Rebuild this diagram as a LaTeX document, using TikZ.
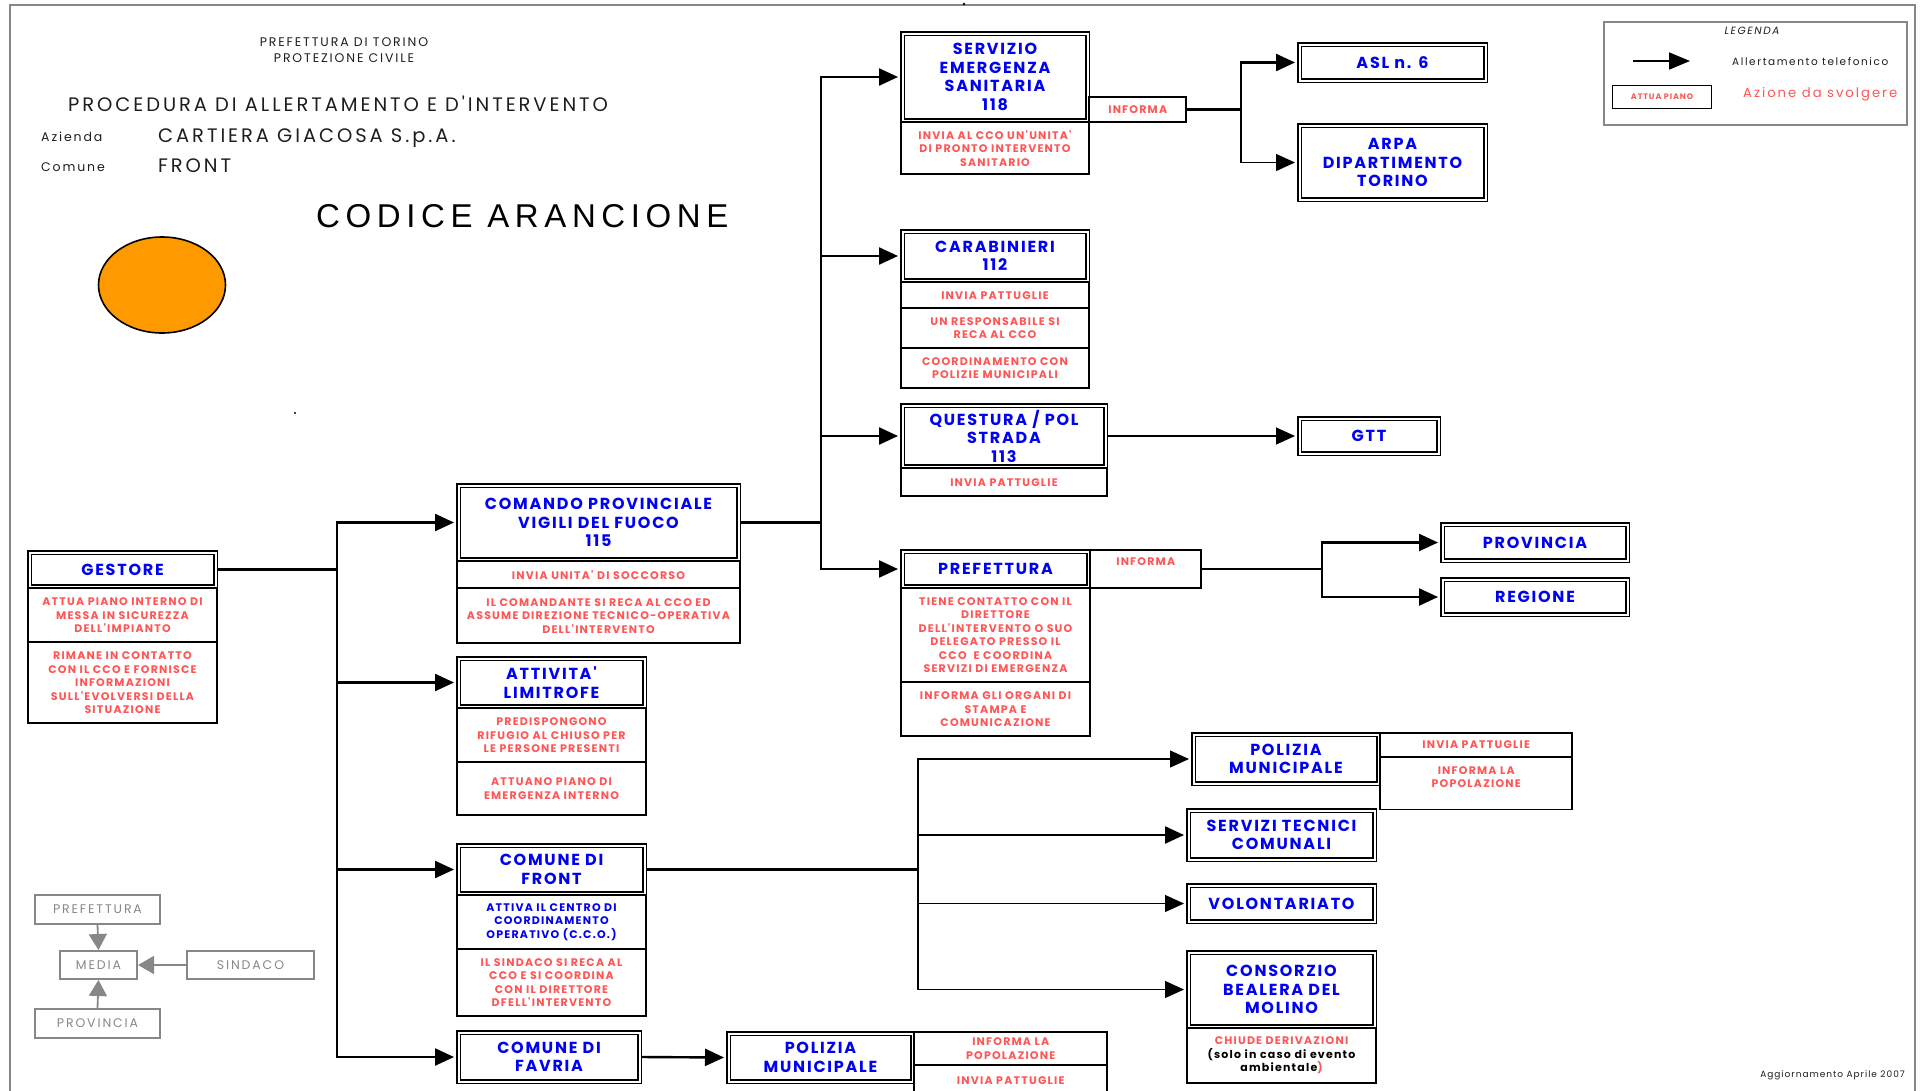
\documentclass[tikz,border=0pt]{standalone}
\usepackage{fontspec}
\setmainfont{Poppins}
\newfontfamily\boxfam[LetterSpace=11]{Poppins}
\newfontfamily\titfam[LetterSpace=15]{Poppins}
\newfontfamily\codfam[LetterSpace=17]{Liberation Sans}
\usetikzlibrary{arrows.meta, positioning}

\definecolor{hblue}{RGB}{0,0,245}
\definecolor{ared}{RGB}{255,85,85}
\definecolor{mgray}{RGB}{135,135,135}
\definecolor{tgray}{RGB}{30,30,30}
\definecolor{codeorange}{RGB}{255,153,0}

\newcommand{\headfont}{\boxfam\bfseries\fontsize{16}{18.5}\selectfont}
\newcommand{\actfont}{\boxfam\bfseries\fontsize{11}{13.5}\selectfont}
\newcommand{\notefont}{\boxfam\fontsize{11}{13.5}\selectfont}
\newcommand{\mediafont}{\titfam\fontsize{12.5}{14}\selectfont}

\begin{document}
\begin{tikzpicture}[
        x=1pt, y=-1pt,
        head/.style={
            rectangle,
            draw=black,
            double=white,
            double distance=2pt,
            line width=1.5pt,
            outer sep=2.5pt,
            inner sep=2pt,
            anchor=north west,
            align=center,
            text=hblue,
            font=\headfont
        },
        act/.style={
            rectangle,
            draw=black,
            line width=1.6pt,
            inner sep=2pt,
            align=center,
            text=ared,
            font=\actfont
        },
        lbl/.style={anchor=north, inner sep=0pt, align=center, text=ared, font=\actfont},
        ttl/.style={anchor=base west, inner sep=0pt, text=tgray},
        gbox/.style={rectangle, draw=mgray, line width=1.6pt, inner sep=0pt, text=mgray, font=\mediafont},
        arrow/.style={-{Triangle[length=19pt, width=17pt]}, black, line width=2.4pt, shorten >=2pt},
        thinarrow/.style={arrow, line width=1.2pt},
        garrow/.style={-{Triangle[length=16pt, width=18pt]}, mgray, line width=1.8pt}
    ]

    % --- FRAME ---
    \useasboundingbox (0,0) rectangle (1921,1090);
    \clip (0,0) rectangle (1921,1090);
    \draw[mgray, line width=2pt] (10,1100) -- (10,5) -- (1915,5) -- (1915,1100);
    \fill (964,4) circle (1.3pt);
    \fill (295,413) circle (1.2pt);

    % --- TITLE ---
    \node[ttl, anchor=base, font=\titfam\fontsize{12.5}{14}\selectfont] (ente) at (344,46) {PREFETTURA DI TORINO};
    \node[ttl, anchor=base, font=\titfam\fontsize{12.5}{14}\selectfont] (ufficio) at (344,62) {PROTEZIONE CIVILE};
    \node[ttl, font=\titfam\fontsize{19.5}{24}\selectfont] (proc) at (68,111) {PROCEDURA DI ALLERTAMENTO E D'INTERVENTO};
    \node[ttl, font=\titfam\fontsize{12.5}{14}\selectfont] (azlab) at (41,141) {Azienda};
    \node[ttl, font=\titfam\fontsize{19.5}{22}\selectfont] (az) at (158,142) {CARTIERA GIACOSA S.p.A.};
    \node[ttl, font=\titfam\fontsize{12.5}{14}\selectfont] (comlab) at (41,171) {Comune};
    \node[ttl, font=\titfam\fontsize{19.5}{22}\selectfont] (com) at (158,172) {FRONT};
    \node[ttl, font=\codfam\fontsize{33}{36}\selectfont, text=black] (codice) at (316,227) {CODICE ARANCIONE};
    \draw[line width=1.6pt, fill=codeorange] (162,285) ellipse [x radius=63.5pt, y radius=48pt];

    % --- LEGENDA ---
    \node[rectangle, draw=mgray, line width=1.6pt, anchor=north west, minimum width=303.4pt, minimum height=103.4pt] (leg) at (1603,21) {};
    \node[font=\titfam\itshape\fontsize{10.5}{12}\selectfont, text=tgray] (legtit) at (1752,31) {LEGENDA};
    \coordinate (lega) at (1633,61);
    \coordinate (legb) at (1690,61);
    \draw[-{Triangle[length=21pt, width=17pt]}, line width=1.8pt] (lega) -- (legb);
    \node[ttl, anchor=west, font=\titfam\fontsize{10.5}{12}\selectfont] (legtel) at (1732,62) {Allertamento telefonico};
    \node[act, line width=1.4pt, minimum width=98.6pt, minimum height=22.6pt, font=\boxfam\bfseries\fontsize{8}{9}\selectfont] (legact) at (1662,97) {ATTUA PIANO};
    \node[ttl, anchor=west, text=ared, font=\titfam\fontsize{13.2}{14}\selectfont] (legaz) at (1743,94) {Azione da svolgere};

    % --- GESTORE ---
    \node[head, minimum width=186pt, minimum height=34pt] (gest) at (27,550) {GESTORE};
    \node[act, minimum width=189.4pt, minimum height=54pt, below=-1.6pt of gest] (gest1)
        {ATTUA PIANO INTERNO DI\\MESSA IN SICUREZZA\\DELL'IMPIANTO};
    \node[act, minimum width=189.4pt, minimum height=81pt, below=-1.6pt of gest1] (gest2)
        {RIMANE IN CONTATTO\\CON IL CCO E FORNISCE\\INFORMAZIONI\\SULL'EVOLVERSI DELLA\\SITUAZIONE};

    % --- VIGILI DEL FUOCO ---
    \node[head, minimum width=280pt, minimum height=74pt] (vvf) at (456,483) {COMANDO PROVINCIALE\\VIGILI DEL FUOCO\\115};
    \node[act, minimum width=283.4pt, minimum height=27pt, below=-1.6pt of vvf] (vvf1) {INVIA UNITA' DI SOCCORSO};
    \node[act, minimum width=283.4pt, minimum height=55pt, below=-1.6pt of vvf1] (vvf2)
        {IL COMANDANTE SI RECA AL CCO ED\\ASSUME DIREZIONE TECNICO-OPERATIVA\\DELL'INTERVENTO};

    % --- ATTIVITA' LIMITROFE ---
    \node[head, minimum width=186pt, minimum height=48pt] (att) at (456,656) {ATTIVITA'\\LIMITROFE};
    \node[act, minimum width=189.4pt, minimum height=54pt, below=-1.6pt of att] (att1)
        {PREDISPONGONO\\RIFUGIO AL CHIUSO PER\\LE PERSONE PRESENTI};
    \node[act, minimum width=189.4pt, minimum height=53pt, below=-1.6pt of att1] (att2)
        {ATTUANO PIANO DI\\EMERGENZA INTERNO};

    % --- COMUNE DI FRONT ---
    \node[head, minimum width=186pt, minimum height=48pt] (front) at (456,843) {COMUNE DI\\FRONT};
    \node[act, text=hblue, minimum width=189.4pt, minimum height=54pt, below=-1.6pt of front] (front1)
        {ATTIVA IL CENTRO DI\\COORDINAMENTO\\OPERATIVO (C.C.O.)};
    \node[act, minimum width=189.4pt, minimum height=67pt, below=-1.6pt of front1] (front2)
        {IL SINDACO SI RECA AL\\CCO E SI COORDINA\\CON IL DIRETTORE\\DFELL'INTERVENTO};

    % --- COMUNE DI FAVRIA ---
    \node[head, minimum width=181pt, minimum height=49pt] (favria) at (456,1030) {COMUNE DI\\FAVRIA};
    \node[head, minimum width=184pt, minimum height=48pt] (pmb) at (726,1031) {POLIZIA\\MUNICIPALE};
    \node[act, anchor=north west, xshift=-1.6pt, minimum width=193pt, minimum height=33.4pt] (pmb1) at (pmb.north east)
        {INFORMA LA\\POPOLAZIONE};
    \node[act, minimum width=193pt, minimum height=30pt, below=-1.6pt of pmb1] (pmb2) {INVIA PATTUGLIE};

    % --- 118 ---
    \node[head, minimum width=185pt, minimum height=87pt] (san) at (900,31) {SERVIZIO\\EMERGENZA\\SANITARIA\\118};
    \node[act, minimum width=188.4pt, minimum height=52pt, below=-1.6pt of san] (san1)
        {INVIA AL CCO UN'UNITA'\\DI PRONTO INTERVENTO\\SANITARIO};
    \node[act, anchor=south west, xshift=-1.6pt, minimum width=97pt, minimum height=25.4pt] (sinf) at (san.south east) {INFORMA};
    \node[head, minimum width=186pt, minimum height=36pt] (asl) at (1297,42) {ASL n. 6};
    \node[head, minimum width=186pt, minimum height=74pt] (arpa) at (1297,123) {ARPA\\DIPARTIMENTO\\TORINO};

    % --- CARABINIERI ---
    \node[head, minimum width=185pt, minimum height=49pt] (cc) at (900,229) {CARABINIERI\\112};
    \node[act, minimum width=188.4pt, minimum height=26pt, below=-1.6pt of cc] (cc1) {INVIA PATTUGLIE};
    \node[act, minimum width=188.4pt, minimum height=40pt, below=-1.6pt of cc1] (cc2) {UN RESPONSABILE SI\\RECA AL CCO};
    \node[act, minimum width=188.4pt, minimum height=40pt, below=-1.6pt of cc2] (cc3) {COORDINAMENTO CON\\POLIZIE MUNICIPALI};

    % --- QUESTURA ---
    \node[head, minimum width=203pt, minimum height=61pt] (ps) at (900,403) {QUESTURA / POL\\STRADA\\113};
    \node[act, minimum width=206.4pt, minimum height=28pt, below=-1.6pt of ps] (ps1) {INVIA PATTUGLIE};
    \node[head, minimum width=139pt, minimum height=35pt] (gtt) at (1297,416) {GTT};

    % --- PREFETTURA ---
    \node[head, minimum width=186pt, minimum height=35pt] (pref) at (900,549) {PREFETTURA};
    \node[act, minimum width=189.4pt, minimum height=94pt, below=-1.6pt of pref] (pref1)
        {TIENE CONTATTO CON IL\\DIRETTORE\\DELL'INTERVENTO O SUO\\DELEGATO PRESSO IL\\CCO\ \ E COORDINA\\SERVIZI DI EMERGENZA};
    \node[act, minimum width=189.4pt, minimum height=54pt, below=-1.6pt of pref1] (pref2)
        {INFORMA GLI ORGANI DI\\STAMPA E\\COMUNICAZIONE};
    \node[act, anchor=north west, xshift=-1.6pt, minimum width=111pt, minimum height=38.4pt,
        label={[lbl, yshift=-8pt]north:INFORMA}] (pinf) at (pref.north east) {};
    \node[head, minimum width=185pt, minimum height=36pt] (prov) at (1440,522) {PROVINCIA};
    \node[head, minimum width=185pt, minimum height=35pt] (reg) at (1440,577) {REGIONE};

    % --- ENTI COMUNALI ---
    \node[head, minimum width=185pt, minimum height=49pt] (pmr) at (1191,732) {POLIZIA\\MUNICIPALE};
    \node[act, anchor=north west, xshift=-1.6pt, minimum width=192pt, minimum height=24.4pt] (pmr1) at (pmr.north east) {INVIA PATTUGLIE};
    \node[act, minimum width=192pt, minimum height=52.4pt, below=-1.6pt of pmr1,
        label={[lbl, yshift=-10pt]north:{INFORMA LA\\POPOLAZIONE}}] (pmr2) {};
    \node[head, minimum width=186pt, minimum height=49pt] (stc) at (1186,808) {SERVIZI TECNICI\\COMUNALI};
    \node[head, minimum width=186pt, minimum height=36pt] (vol) at (1186,883) {VOLONTARIATO};
    \node[head, minimum width=186pt, minimum height=74pt] (cons) at (1186,950) {CONSORZIO\\BEALERA DEL\\MOLINO};
    \node[act, minimum width=189.4pt, minimum height=55pt, below=-1.6pt of cons] (cons1)
        {CHIUDE DERIVAZIONI\\\textcolor{black}{\notefont(solo in caso di evento}\\\textcolor{black}{\notefont ambientale})};

    % --- MEDIA ---
    \node[gbox, minimum width=125.4pt, minimum height=29.4pt] (mpref) at (97.5,909.5) {PREFETTURA};
    \node[gbox, minimum width=77.4pt, minimum height=28.4pt] (mmedia) at (98.5,965) {MEDIA};
    \node[gbox, minimum width=127.4pt, minimum height=28.4pt] (msind) at (250.5,965) {SINDACO};
    \node[gbox, minimum width=125.4pt, minimum height=29.4pt] (mprov) at (97.5,1023.5) {PROVINCIA};

    % --- FOOTER ---
    \node[ttl, anchor=base east, font=\boxfam\fontsize{9}{11}\selectfont] (agg) at (1905,1077) {Aggiornamento Aprile 2007};

    % --- ARROWS ---
    \coordinate (gtrunk) at (337,0);
    \coordinate (vtrunk) at (821,0);
    \coordinate (strunk) at (1241,0);
    \coordinate (ptrunk) at (1322,0);
    \coordinate (ftrunk) at (918,0);

    \draw[arrow] (gest.east) -- (gest.east -| gtrunk) |- (vvf.west);
    \draw[arrow] (gest.east) -- (gest.east -| gtrunk) |- (att.west);
    \draw[arrow] (gest.east) -- (gest.east -| gtrunk) |- (front.west);
    \draw[arrow] (gest.east) -- (gest.east -| gtrunk) |- (favria.west);

    \draw[arrow] (vvf.east) -- (vvf.east -| vtrunk) |- (san.west);
    \draw[arrow] (vvf.east) -- (vvf.east -| vtrunk) |- (cc.west);
    \draw[arrow] (vvf.east) -- (vvf.east -| vtrunk) |- (ps.west);
    \draw[arrow] (vvf.east) -- (vvf.east -| vtrunk) |- (pref.west);

    \draw[thinarrow] (sinf.east) -- (sinf.east -| strunk) |- (arpa.west);
    \draw[arrow] (sinf.east) -- (sinf.east -| strunk) |- (asl.west);

    \draw[thinarrow] (ps.east) -- (gtt.west);

    \draw[arrow] (pinf.east) -- (pinf.east -| ptrunk) |- (prov.west);
    \draw[arrow] (pinf.east) -- (pinf.east -| ptrunk) |- (reg.west);

    \draw[thinarrow] (front.east) -- (front.east -| ftrunk) |- (pmr.west);
    \draw[thinarrow] (front.east) -- (front.east -| ftrunk) |- (vol.west);
    \draw[thinarrow] (front.east) -- (front.east -| ftrunk) |- (cons.west);
    \draw[arrow] (front.east) -- (front.east -| ftrunk) |- (stc.west);

    \draw[arrow] (favria.east) -- (pmb.west);

    \draw[garrow] (mpref.south) -- (mmedia.north);
    \draw[garrow] (msind.west) -- (mmedia.east);
    \draw[garrow] (mprov.north) -- (mmedia.south);

\end{tikzpicture}
\end{document}
